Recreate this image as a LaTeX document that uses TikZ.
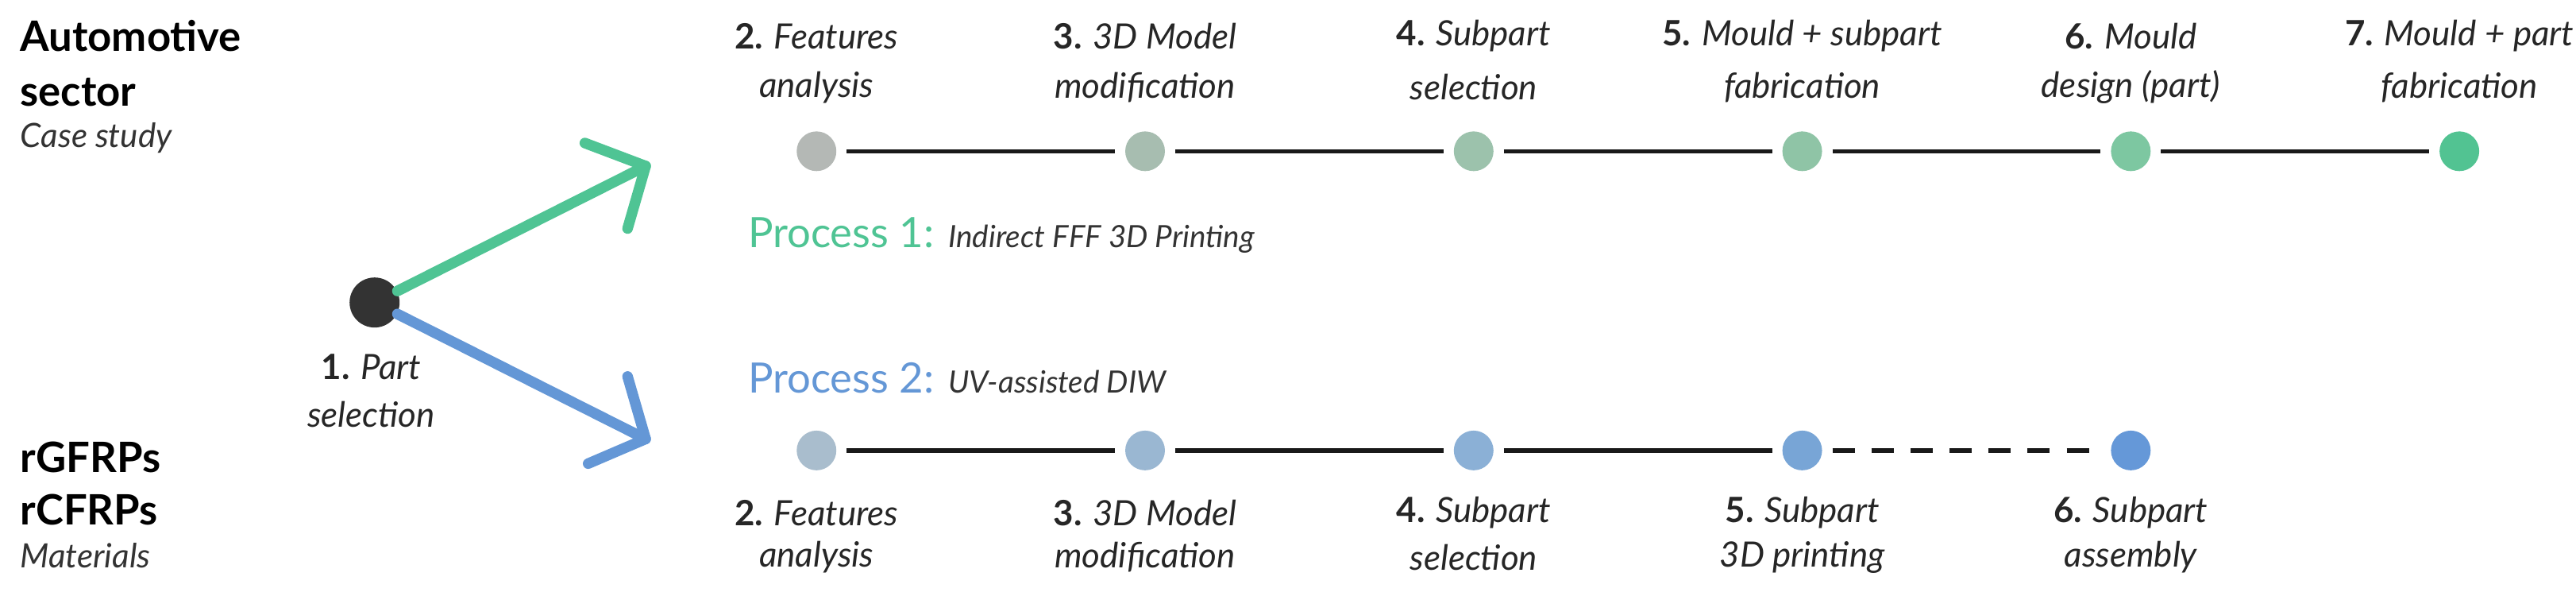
\documentclass[tikz,border=0pt]{standalone}
\usepackage{fontspec}
\setmainfont{Lato}
\begin{document}
\begin{tikzpicture}[x=0.0207cm,y=-0.0207cm,
  dot/.style={circle,inner sep=0pt,minimum size=0.5cm,draw=none},
  lab/.style={align=center,font=\fontsize{12.5}{15}\selectfont\itshape,text=black!85,inner sep=0pt},
  side/.style={anchor=west,font=\fontsize{15}{18}\selectfont\bfseries,inner sep=0pt},
  sidei/.style={anchor=west,font=\fontsize{12}{14}\selectfont\itshape,text=black!80,inner sep=0pt},
  conn/.style={line width=1.6pt,black!90,shorten <=3.5pt,shorten >=3.5pt},
  arr/.style={line width=3.8pt,line cap=round,line join=round}]
\definecolor{garrow}{HTML}{4FC494}
\definecolor{barrow}{HTML}{6497D6}
\definecolor{t1}{HTML}{B4B8B5}\definecolor{t2}{HTML}{A7BDB0}\definecolor{t3}{HTML}{9CC2AC}
\definecolor{t4}{HTML}{8FC4A6}\definecolor{t5}{HTML}{7DC7A1}\definecolor{t6}{HTML}{52C392}
\definecolor{b1}{HTML}{A9BDCD}\definecolor{b2}{HTML}{9AB7D2}\definecolor{b3}{HTML}{8BB0D6}
\definecolor{b4}{HTML}{78A5D6}\definecolor{b5}{HTML}{6598D8}
\useasboundingbox (0,0) rectangle (1568,360);
% left texts
\node[side] (auto) at (12,22) {Automotive};
\node[side] (sect) at (12,56) {sector};
\node[sidei] (case) at (12,84) {Case study};
\node[side] (rg) at (12,278) {rGFRPs};
\node[side] (rc) at (12,310) {rCFRPs};
\node[sidei] (mat) at (12,338) {Materials};
% start
\node[dot,fill=black!80,minimum size=0.63cm] (s) at (228,184) {};
\node[lab] (sl1) at (226,223) {\textbf{\upshape 1.} Part};
\node[lab] (sl2) at (226,252) {selection};
\coordinate (gt) at (393,101);
\coordinate (bt) at (393,267);
\draw[arr,garrow] (s) -- (gt);
\draw[arr,garrow] (356,87) -- (gt) -- (382,139);
\draw[arr,barrow] (s) -- (bt);
\draw[arr,barrow] (382,229) -- (bt) -- (358,282);
% process labels
\node[anchor=west,inner sep=0pt,font=\fontsize{15}{18}\selectfont,text=garrow] (p1) at (455,143) {Process 1: {\fontsize{11}{13}\selectfont\itshape\color{black!80} Indirect FFF 3D Printing}};
\node[anchor=west,inner sep=0pt,font=\fontsize{15}{18}\selectfont,text=barrow] (p2) at (455,230) {Process 2: {\fontsize{11}{13}\selectfont\itshape\color{black!80} UV-assisted DIW}};
% top row
\foreach \i/\x/\c in {1/497/t1,2/697/t2,3/897/t3,4/1097/t4,5/1297/t5,6/1497/t6}
  \node[dot,fill=\c] (a\i) at (\x,92) {};
\foreach \i/\j in {1/2,2/3,3/4,4/5,5/6} \draw[conn] (a\i) -- (a\j);
\node[lab] at (497,22) {\textbf{\upshape 2.} Features};
\node[lab] at (497,53) {analysis};
\node[lab] at (697,22) {\textbf{\upshape 3.} 3D Model};
\node[lab] at (697,53) {modification};
\node[lab] at (897,22) {\textbf{\upshape 4.} Subpart};
\node[lab] at (897,53) {selection};
\node[lab] at (1097,22) {\textbf{\upshape 5.} Mould + subpart};
\node[lab] at (1097,53) {fabrication};
\node[lab] at (1297,22) {\textbf{\upshape 6.} Mould};
\node[lab] at (1297,53) {design (part)};
\node[lab] at (1497,22) {\textbf{\upshape 7.} Mould + part};
\node[lab] at (1497,53) {fabrication};
% bottom row
\foreach \i/\x/\c in {1/497/b1,2/697/b2,3/897/b3,4/1097/b4,5/1297/b5}
  \node[dot,fill=\c] (c\i) at (\x,274) {};
\foreach \i/\j in {1/2,2/3,3/4} \draw[conn] (c\i) -- (c\j);
\draw[conn,dash pattern=on 8pt off 6pt] (c4) -- (c5);
\node[lab] at (497,312) {\textbf{\upshape 2.} Features};
\node[lab] at (497,339) {analysis};
\node[lab] at (697,312) {\textbf{\upshape 3.} 3D Model};
\node[lab] at (697,339) {modification};
\node[lab] at (897,312) {\textbf{\upshape 4.} Subpart};
\node[lab] at (897,339) {selection};
\node[lab] at (1097,312) {\textbf{\upshape 5.} Subpart};
\node[lab] at (1097,339) {3D printing};
\node[lab] at (1297,312) {\textbf{\upshape 6.} Subpart};
\node[lab] at (1297,339) {assembly};
\end{tikzpicture}
\end{document}
